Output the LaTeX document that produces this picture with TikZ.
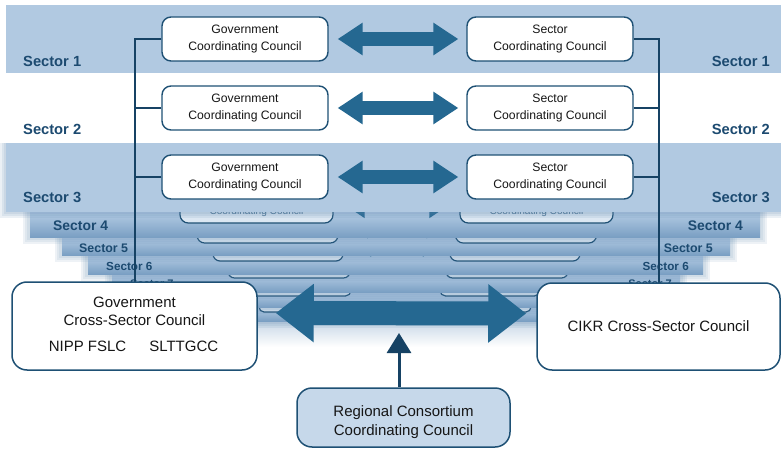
\documentclass[tikz,border=0pt]{standalone}
\usepackage{fontspec}
\setmainfont{Liberation Sans}
\usetikzlibrary{arrows.meta,calc}

\definecolor{bandblue}{RGB}{177,201,225}
\definecolor{bandtop}{RGB}{180,204,228}
\definecolor{bandbot}{RGB}{122,159,195}
\definecolor{navy}{RGB}{22,66,100}
\definecolor{arrowblue}{RGB}{37,104,145}
\definecolor{labelblue}{RGB}{28,74,112}
\definecolor{rimblue}{RGB}{30,80,116}
\definecolor{regfill}{RGB}{198,216,234}
\definecolor{shadeblue}{RGB}{95,135,175}
\definecolor{inkgrey}{RGB}{22,22,22}

\tikzset{
  council/.style={draw=rimblue, line width=1.4pt, fill=white, rounded corners=9pt,
    minimum width=166pt, minimum height=44pt, inner sep=0pt, align=center,
    font=\fontsize{12.2}{17.5}\selectfont, text=inkgrey},
  bigbox/.style={draw=rimblue, line width=1.5pt, fill=white, rounded corners=15pt,
    inner sep=0pt, align=center, font=\fontsize{15}{18}\selectfont, text=inkgrey},
  seclabel/.style={font=\bfseries\fontsize{14.7}{16}\selectfont, text=labelblue, inner sep=0pt},
  link/.style={draw=navy, line width=2pt},
  twoway/.style={draw=arrowblue, line width=14pt,
    {Triangle[length=25pt,width=31pt]}-{Triangle[length=25pt,width=31pt]},
    shorten <=9pt, shorten >=8pt},
  bigway/.style={draw=arrowblue, line width=24pt,
    {Triangle[length=38pt,width=56pt]}-{Triangle[length=38pt,width=56pt]},
    shorten <=18pt, shorten >=10pt},
  upway/.style={draw=navy, line width=3pt, -{Triangle[length=20pt,width=24pt]}},
}

\begin{document}
\begin{tikzpicture}[x=1pt,y=-1pt]
\useasboundingbox (0,0) rectangle (781,449);
\fill[white] (0,0) rectangle (781,449);

% soft fade under the stacked sector planes
\shade[top color=bandbot!75!white, bottom color=white] (250,300) rectangle (540,347);

% stacked sector planes, drawn from the back to the front
\foreach \n/\s/\gx/\sx/\w/\h/\cy/\bt/\bb/\bl/\br in {
  9/0.56/305/485/92/26/299/307/321/150/630,
  8/0.62/301/490/100/28/282/292/307/135/655,
  7/0.73/289/507/122/32/262/274/292/112/680,
  6/0.78/278/515/130/34/244/255/274/88/703,
  5/0.85/267.5/526/141/37/224.5/237/255/62/730,
  4/0.92/256.5/536.5/153/40/203/212/237/30/760}{
  \foreach \d in {7,5,3}
    \fill[shadeblue, opacity=0.10] (\bl-\d,\bt) rectangle (\br+\d,\bb+\d);
  \shade[top color=bandtop, bottom color=bandbot] (\bl,\bt) rectangle (\br,\bb);
  \pgfmathsetmacro\fs{11*\s}
  \pgfmathsetmacro\bs{1.3*\fs}
  \pgfmathsetmacro\lw{14*\s}
  \pgfmathsetmacro\al{25*\s}
  \pgfmathsetmacro\aw{31*\s}
  \pgfmathsetmacro\rc{9*\s}
  \pgfmathsetmacro\ty{\cy+\h/2-12*\s}
  \node[council, fill=bandblue!45!white, line width=1.2pt, minimum width=\w pt,
        minimum height=\h pt, rounded corners=\rc pt] (g\n) at (\gx,\cy) {};
  \node[council, fill=bandblue!45!white, line width=1.2pt, minimum width=\w pt,
        minimum height=\h pt, rounded corners=\rc pt] (s\n) at (\sx,\cy) {};
  \node[inner sep=0pt, text=rimblue!80!white, font=\fontsize{\fs}{\bs}\selectfont]
        (gt\n) at (\gx,\ty) {Coordinating Council};
  \node[inner sep=0pt, text=rimblue!80!white, font=\fontsize{\fs}{\bs}\selectfont]
        (st\n) at (\sx,\ty) {Coordinating Council};
  \draw[draw=arrowblue, line width=\lw pt,
        {Triangle[length=\al pt,width=\aw pt]}-{Triangle[length=\al pt,width=\aw pt]},
        shorten <=8pt, shorten >=7pt] (g\n.east) -- (s\n.west);
}

% labels of the stacked planes
\foreach \n/\lx/\rx/\ly/\lf in {7/130/672/284/11, 6/106/689/266/11.7,
                                5/79/713/248/12.4, 4/53/743/226/13.9}{
  \node[seclabel, anchor=west, font=\bfseries\fontsize{\lf}{\lf}\selectfont] (ll\n) at (\lx,\ly) {Sector \n};
  \node[seclabel, anchor=east, font=\bfseries\fontsize{\lf}{\lf}\selectfont] (lr\n) at (\rx,\ly) {Sector \n};
}

% front planes: sector 1 and sector 3 are tinted, sector 2 stays white
\foreach \d in {6,4,2}
  \fill[shadeblue, opacity=0.12] (6-\d,143) rectangle (785,212+\d);
\fill[bandblue] (6,143) rectangle (781,212);
\fill[bandblue] (6,5) rectangle (781,73);

\foreach \r/\y/\ly in {1/39/61, 2/108/129, 3/177/197}{
  \node[council] (g\r) at (245,\y) {Government\\Coordinating Council};
  \node[council] (s\r) at (550,\y) {Sector\\Coordinating Council};
  \draw[twoway] (g\r.east) -- (s\r.west);
  \node[seclabel, anchor=west] (la\r) at (23,\ly) {Sector \r};
  \node[seclabel, anchor=east] (lb\r) at (770,\ly) {Sector \r};
}

% tree links from the councils down to the cross-sector councils
\begin{scope}
  \clip (0,0) rectangle (781,288);
  \coordinate (ltop) at (134.5,39);
  \coordinate (lfoot) at (134.5,284);
  \coordinate (rtop) at (659,39);
  \coordinate (rfoot) at (659,285);
  \draw[link] (g1.west) -- (ltop) -- (lfoot);
  \draw[link] (g2.west) -- (g2.west -| ltop);
  \draw[link] (g3.west) -- (g3.west -| ltop);
  \draw[link] (s1.east) -- (rtop) -- (rfoot);
  \draw[link] (s2.east) -- (s2.east -| rtop);
  \draw[link] (s3.east) -- (s3.east -| rtop);
\end{scope}

% cross-sector councils
\node[bigbox, minimum width=245pt, minimum height=88pt] (gcs) at (134.5,326) {};
\node[inner sep=0pt, align=center, font=\fontsize{15}{18}\selectfont, text=inkgrey]
  (gcst) at (134.5,311) {Government\\Cross-Sector Council};
\node[inner sep=0pt, font=\fontsize{15}{18}\selectfont, text=inkgrey]
  (gcsm) at (133.5,346) {NIPP FSLC\hspace{23pt}SLTTGCC};
\node[bigbox, minimum width=243pt, minimum height=87pt] (cikr) at (658.5,326.5)
  {CIKR Cross-Sector Council};

% exchange between the cross-sector councils
\draw[bigway] ([yshift=13pt]gcs.east) -- ([yshift=13pt]cikr.west);

% regional consortium
\node[bigbox, fill=regfill, minimum width=213pt, minimum height=59pt] (reg) at (403.5,417.5) {};
\node[inner sep=0pt, align=center, font=\fontsize{15}{19.5}\selectfont, text=inkgrey]
  (regt) at (403.5,422) {Regional Consortium\\Coordinating Council};
\coordinate (hub) at (399,333);
\draw[upway] (reg.north -| hub) -- (hub);
\end{tikzpicture}
\end{document}
